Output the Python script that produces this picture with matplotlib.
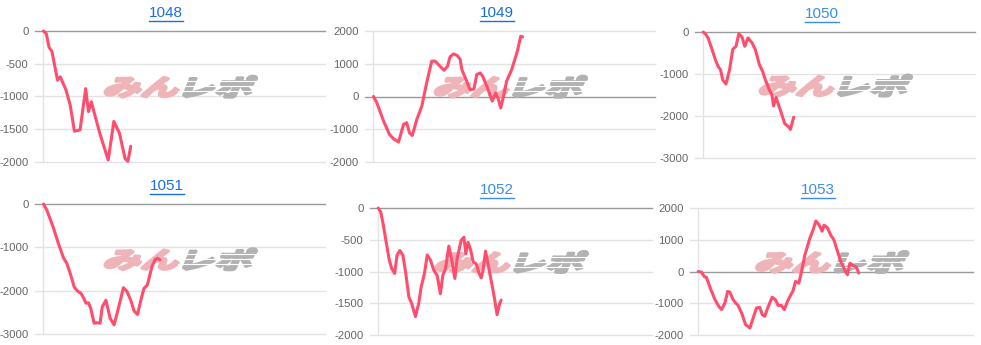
import matplotlib.pyplot as plt
import numpy as np
from matplotlib.font_manager import FontProperties
from matplotlib.textpath import TextPath
from matplotlib.patches import PathPatch
from matplotlib.transforms import Affine2D, IdentityTransform
from matplotlib.lines import Line2D


# Chart data (x = progress along the day, 0..100 ; y = difference in coins)
titles = ['1048', '1049', '1050', '1051', '1052', '1053']

x_1048 = [0, 1, 2, 3, 5, 6, 8, 9.5, 11, 13, 15, 16, 17, 20, 23, 25, 27, 29, 30, 31]
y_1048 = [0, -40, -250, -310, -750, -700, -900, -1130, -1530, -1510, -880, -1230,
          -1080, -1560, -1970, -1380, -1560, -1950, -1990, -1760]

x_1049 = [0, 1.2, 3.6, 5.7, 7.1, 8.9, 10.7, 11.8, 12.8, 13.8, 15.4, 17.2, 18.9, 20.7,
          21.9, 23.7, 25.1, 26.3, 27.2, 28.4, 29.8, 30.8, 31.4, 33.1, 34.3, 35.7, 36.7,
          37.9, 38.8, 40.5, 42.2, 43.4, 44.4, 45.2, 46.2, 47.3, 49.1, 51.1, 52.3, 53.0]
y_1049 = [0, -190, -750, -1160, -1290, -1390, -850, -800, -1110, -1190, -700, -290,
          420, 1080, 1080, 920, 800, 920, 1210, 1300, 1250, 1130, 820, 470, 210, 230,
          670, 720, 620, 260, -140, 110, -90, -350, 10, 470, 820, 1380, 1840, 1820]

x_1050 = [0, 0.9, 1.8, 3.3, 4.5, 5.5, 6.4, 7.2, 8.4, 9.7, 10.9, 12.1, 13.1, 14.3, 15.3,
          16.5, 18.0, 19.2, 20.7, 21.9, 22.9, 24.1, 25.3, 25.9, 26.8, 28.4, 30.0, 31.5,
          32.1, 33.3]
y_1050 = [0, -50, -140, -420, -660, -820, -900, -1140, -1240, -900, -410, -340, -40,
          -120, -340, -140, -260, -420, -780, -940, -1140, -1340, -1500, -1760, -1560,
          -1860, -2180, -2260, -2320, -2030]

x_1051 = [0, 1.2, 3.6, 5.3, 7.1, 8.3, 9.7, 10.9, 12.1, 13.3, 14.2, 15.1, 16.0, 16.8,
          18.0, 18.9, 20.1, 20.9, 22.2, 23.7, 25.1, 26.6, 28.4, 29.6, 31.0, 32.2, 33.4,
          34.9, 35.7, 36.9, 38.5, 39.6, 40.5, 41.4]
y_1051 = [0, -140, -560, -910, -1240, -1370, -1640, -1910, -2010, -2060, -2160, -2290,
          -2280, -2410, -2750, -2740, -2750, -2370, -2220, -2640, -2790, -2410, -1930,
          -2010, -2220, -2470, -2550, -2140, -1950, -1870, -1450, -1290, -1250, -1290]

x_1052 = [0, 0.9, 1.8, 3.0, 4.0, 4.9, 6.0, 6.9, 7.9, 9.0, 10.0, 11.2, 12.2, 13.6, 14.8,
          15.7, 16.9, 17.9, 19.1, 20.3, 21.5, 22.7, 23.6, 24.6, 25.8, 27.0, 28.0, 28.8,
          30.3, 31.3, 32.0, 32.8, 33.7, 34.7, 35.8, 36.7, 37.6, 38.3, 39.2, 40.4, 41.6,
          42.5, 43.4, 44.4, 44.9]
y_1052 = [0, -60, -250, -560, -810, -950, -1030, -740, -670, -740, -1010, -1400, -1500,
          -1710, -1500, -1240, -1030, -740, -820, -980, -1060, -1350, -1060, -950, -600,
          -850, -1110, -800, -510, -460, -720, -540, -650, -850, -880, -1010, -1100, -980,
          -680, -950, -1220, -1430, -1680, -1500, -1450]

x_1053 = [0, 1.2, 2.2, 3.0, 4.6, 6.1, 7.5, 8.5, 9.7, 10.7, 11.5, 12.7, 13.6, 14.5, 15.8,
          17.2, 18.8, 20.0, 21.2, 22.4, 23.3, 24.2, 25.5, 26.9, 28.1, 29.1, 30.3, 31.3,
          32.5, 33.7, 34.5, 35.4, 36.6, 37.6, 38.8, 40.6, 41.8, 42.8, 43.9, 45.1, 45.8,
          47.0, 48.2, 49.4, 50.7, 51.9, 53.3, 54.3, 55.2, 56.4, 57.6, 58.4]
y_1053 = [0, -20, -160, -190, -570, -890, -1100, -1200, -990, -630, -650, -890, -990,
          -1070, -1310, -1670, -1780, -1460, -1150, -1130, -1360, -1410, -1100, -810,
          -890, -1070, -1070, -1200, -940, -730, -610, -310, -370, 0, 520, 1040, 1310,
          1590, 1480, 1270, 1460, 1380, 1150, 990, 630, 310, 50, -100, 260, 190, 130, -50]

xs = [x_1048, x_1049, x_1050, x_1051, x_1052, x_1053]
ys = [y_1048, y_1049, y_1050, y_1051, y_1052, y_1053]

# y axis ranges and tick steps
ylims = [(-2000, 0), (-2000, 2000), (-3000, 0), (-3000, 0), (-2000, 0), (-2000, 2000)]
ysteps = [500, 1000, 1000, 1000, 500, 1000]


# Figure size in pixels
W, H = 981, 345
# Plot areas in pixels: left, right, top, bottom
boxes = [(35, 325, 31, 162), (365, 655, 31, 162), (695, 975, 32, 158),
         (35, 325, 204, 334), (370, 652, 208, 335), (690, 973, 208, 335)]
# Title centres in pixels (x, y from top)
title_pos = [(166, 13), (497, 13), (822, 14), (167, 186), (497, 190), (818, 190)]
title_cols = ['#1a6fd8', '#1a6fd8', '#3a8ee6', '#1a6fd8', '#3a8ee6', '#3a8ee6']

LINE_COL = '#ff4d6d'
GRID_COL = '#e3e3e3'
ZERO_COL = '#9a9a9a'
LABEL_COL = '#666666'
FONT = 'Liberation Sans'


#============================================
#                 watermark
#============================================
def watermark(ax):
    """
    Draws the slanted "みんレポ" logo in the middle of the plot area, behind the line.
    The left half is pink, the right half is gray with thin white stripes.
    The glyph outlines are stroked as well to make the letters heavier.
    """
    fp = FontProperties(family='Noto Sans CJK JP', weight='bold')
    p1 = TextPath((0, 0), 'みん', size=10, prop=fp)
    p2 = TextPath((0, 0), 'レポ', size=10, prop=fp)
    e1 = p1.get_extents()
    e2 = p2.get_extents()
    # Target size of the logo in pixels
    logo_w, logo_h, gap = 146.0, 21.0, 7.0
    sx = (logo_w - gap) / (e1.width + e2.width)
    sy = logo_h / max(e1.height, e2.height)
    cx, cy = ax.transAxes.transform((0.5, 0.575))
    x0 = cx - logo_w / 2 - 4
    y0 = cy - logo_h / 2
    t1 = (Affine2D().translate(-e1.x0, -e1.y0).scale(sx, sy)
          .skew_deg(22, 0).translate(x0, y0))
    x1 = x0 + e1.width * sx + gap
    t2 = (Affine2D().translate(-e2.x0, -e2.y0).scale(sx, sy)
          .skew_deg(22, 0).translate(x1, y0))
    pink = PathPatch(p1, transform=t1, facecolor='#efb4b8', edgecolor='#efb4b8',
                     lw=2.2, joinstyle='round', zorder=2, clip_on=False)
    gray = PathPatch(p2, transform=t2, facecolor='#b2b2b2', edgecolor='#b2b2b2',
                     lw=2.2, joinstyle='round', zorder=2, clip_on=False)
    ax.add_artist(pink)
    ax.add_artist(gray)
    # White stripes across the gray part
    for frac in [0.28, 0.52, 0.76]:
        yy = y0 + frac * logo_h
        ln = Line2D([x1 - 5, x1 + e2.width * sx + 15], [yy, yy], color='white', lw=0.8,
                    transform=IdentityTransform(), zorder=2.5)
        ax.add_artist(ln)


# Set up figure
fig = plt.figure(figsize=(W / 100, H / 100), dpi=100)
fig.patch.set_facecolor('white')

title_texts = []
for i in range(6):
    l, r, t, b = boxes[i]
    ax = fig.add_axes([l / W, 1 - b / H, (r - l) / W, (b - t) / H])
    lo, hi = ylims[i]
    ax.set_xlim(-3, 100)
    ax.set_ylim(lo, hi)
    # Gridlines, with a darker baseline at zero
    ticks = np.arange(lo, hi + 1, ysteps[i])
    for tv in ticks:
        ax.axhline(tv, color=ZERO_COL if tv == 0 else GRID_COL, lw=1, zorder=1,
                   clip_on=False)
    ax.axvline(0, color=GRID_COL, lw=1, zorder=1)
    ax.set_yticks(ticks)
    ax.set_yticklabels([str(int(tv)) for tv in ticks], fontfamily=FONT)
    ax.set_xticks([])
    ax.tick_params(axis='y', left=False, pad=1.2, labelsize=8.2, labelcolor=LABEL_COL)
    for s in ax.spines.values():
        s.set_visible(False)
    watermark(ax)
    # The difference line
    ax.plot(xs[i], ys[i], color=LINE_COL, lw=2.2, zorder=4, clip_on=False,
            solid_joinstyle='round', solid_capstyle='round')
    # Title (link style, underlined below)
    tx, ty = title_pos[i]
    txt = fig.text(tx / W, 1 - ty / H, titles[i], ha='center', va='center',
                   fontsize=11, color=title_cols[i], fontfamily=FONT)
    title_texts.append(txt)

# Underline the titles
fig.canvas.draw()
renderer = fig.canvas.get_renderer()
for i, txt in enumerate(title_texts):
    bb = txt.get_window_extent(renderer)
    yy = bb.y0 - 1
    fig.add_artist(Line2D([bb.x0, bb.x1], [yy, yy], color=title_cols[i], lw=1,
                          transform=IdentityTransform()))

# Save the figure
plt.savefig('out.png', dpi=100)
